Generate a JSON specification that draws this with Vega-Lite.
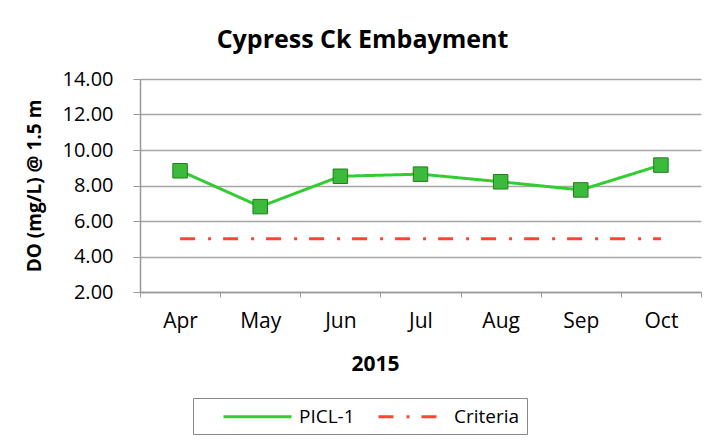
{
  "$schema": "https://vega.github.io/schema/vega-lite/v6.json",
  "autosize": "none",
  "width": 561,
  "height": 213,
  "padding": {"left": 140, "top": 79, "right": 23, "bottom": 150},
  "background": "white",
  "title": {
    "text": "Cypress Ck Embayment",
    "anchor": "middle",
    "dx": -58,
    "offset": 16,
    "font": "Open Sans",
    "fontSize": 25,
    "fontWeight": "bold",
    "color": "black"
  },
  "data": {
    "values": [
      {"month": "Apr", "series": "PICL-1", "value": 8.83},
      {"month": "May", "series": "PICL-1", "value": 6.81},
      {"month": "Jun", "series": "PICL-1", "value": 8.52},
      {"month": "Jul", "series": "PICL-1", "value": 8.64},
      {"month": "Aug", "series": "PICL-1", "value": 8.21},
      {"month": "Sep", "series": "PICL-1", "value": 7.75},
      {"month": "Oct", "series": "PICL-1", "value": 9.15},
      {"month": "Apr", "series": "Criteria", "value": 5.0},
      {"month": "May", "series": "Criteria", "value": 5.0},
      {"month": "Jun", "series": "Criteria", "value": 5.0},
      {"month": "Jul", "series": "Criteria", "value": 5.0},
      {"month": "Aug", "series": "Criteria", "value": 5.0},
      {"month": "Sep", "series": "Criteria", "value": 5.0},
      {"month": "Oct", "series": "Criteria", "value": 5.0}
    ]
  },
  "encoding": {
    "x": {
      "field": "month",
      "type": "ordinal",
      "sort": ["Apr", "May", "Jun", "Jul", "Aug", "Sep", "Oct"],
      "scale": {"type": "band", "paddingInner": 0, "paddingOuter": 0},
      "axis": {
        "title": "2015",
        "titleX": 235,
        "titlePadding": 22,
        "titleFont": "Open Sans",
        "titleFontSize": 21,
        "titleFontWeight": "bold",
        "titleColor": "black",
        "labelAngle": 0,
        "labelFont": "Open Sans",
        "labelFontSize": 21,
        "labelColor": "black",
        "labelPadding": 13,
        "tickBand": "extent",
        "tickSize": 5,
        "tickColor": "#999999",
        "domainColor": "#999999",
        "domainWidth": 1.5,
        "grid": false
      }
    },
    "y": {
      "field": "value",
      "type": "quantitative",
      "scale": {"domain": [2, 14], "nice": false, "zero": false},
      "axis": {
        "title": "DO (mg/L) @ 1.5 m",
        "titleFont": "Open Sans",
        "titleFontSize": 19,
        "titleFontWeight": "bold",
        "titleColor": "black",
        "titlePadding": 18,
        "values": [2, 4, 6, 8, 10, 12, 14],
        "format": ".2f",
        "labelFont": "Open Sans",
        "labelFontSize": 20,
        "labelColor": "black",
        "labelPadding": 20,
        "tickSize": 7,
        "tickColor": "#999999",
        "domainColor": "#999999",
        "domainWidth": 1.5,
        "grid": true,
        "gridColor": "#a6a6a6",
        "gridWidth": 1.5
      }
    }
  },
  "layer": [
    {
      "mark": {"type": "line", "strokeWidth": 3},
      "encoding": {
        "color": {
          "field": "series",
          "type": "nominal",
          "scale": {"domain": ["PICL-1", "Criteria"], "range": ["#33cc33", "#ff4433"]},
          "legend": {"title": null}
        },
        "strokeDash": {
          "field": "series",
          "type": "nominal",
          "scale": {"domain": ["PICL-1", "Criteria"], "range": [[1, 0], [15, 13, 3, 12]]},
          "legend": {"title": null}
        }
      }
    },
    {
      "transform": [{"filter": "datum.series === 'PICL-1'"}],
      "mark": {"type": "square", "size": 210, "filled": true, "fill": "#3cba3c", "stroke": "#1d7f1d", "strokeWidth": 1, "opacity": 1}
    }
  ],
  "config": {
    "view": {"stroke": null},
    "legend": {
      "orient": "none",
      "legendX": 53,
      "legendY": 319,
      "direction": "horizontal",
      "strokeColor": "#888888",
      "padding": 7,
      "symbolType": "M1.2,0H8",
      "symbolSize": 400,
      "symbolStrokeWidth": 3,
      "labelFont": "Open Sans",
      "labelFontSize": 19,
      "labelColor": "black",
      "labelOffset": 76,
      "columnPadding": 0
    }
  }
}
